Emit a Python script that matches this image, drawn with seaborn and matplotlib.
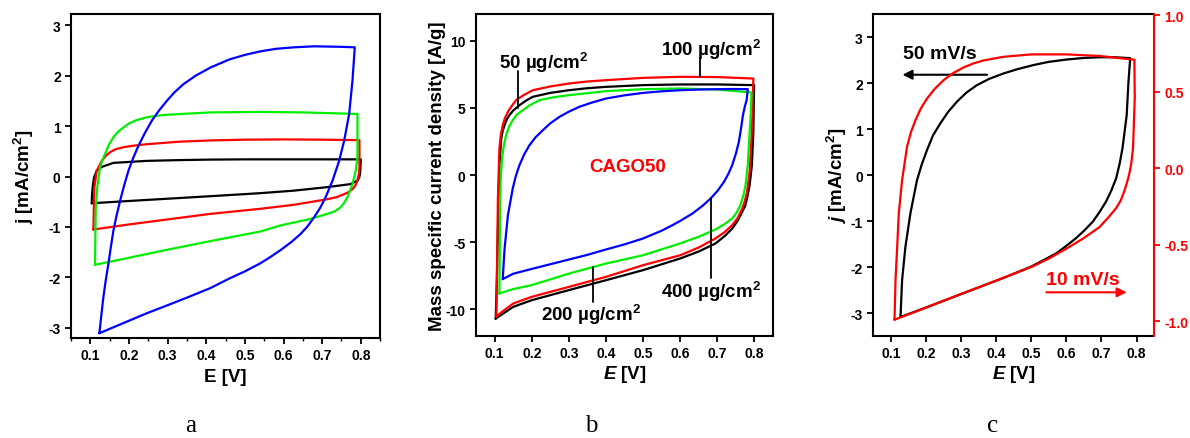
import matplotlib
matplotlib.use("Agg")
import matplotlib.pyplot as plt
import seaborn as sns
from matplotlib.ticker import MultipleLocator, FixedLocator

# ---------------- Panel a : j [mA/cm2] vs E [V] ----------------
a_black_E = [0.1035, 0.104, 0.106, 0.1095, 0.1165, 0.1295, 0.1597, 0.246, 0.33, 0.411, 0.5, 0.6, 0.7, 0.80,
             0.799, 0.798, 0.796, 0.7915, 0.774, 0.7135, 0.627, 0.540, 0.411, 0.3, 0.2, 0.1035]
a_black_j = [-0.53, -0.40, -0.21, -0.02, 0.115, 0.19, 0.27, 0.31, 0.325, 0.335, 0.34, 0.34, 0.34, 0.34,
             0.15, 0.05, -0.02, -0.08, -0.15, -0.21, -0.28, -0.33, -0.39, -0.44, -0.485, -0.53]

a_red_E = [0.1078, 0.1095, 0.1105, 0.1165, 0.1295, 0.14, 0.151, 0.165, 0.1856, 0.21, 0.246, 0.33, 0.411,
           0.5, 0.6, 0.7, 0.7966,
           0.7966, 0.795, 0.7915, 0.786, 0.7785, 0.768, 0.757, 0.737, 0.7135, 0.627, 0.540, 0.411,
           0.3, 0.2, 0.1078]
a_red_j = [-1.05, -0.45, -0.21, 0.115, 0.31, 0.41, 0.48, 0.54, 0.58, 0.61, 0.64, 0.69, 0.715,
           0.73, 0.735, 0.73, 0.72,
           0.18, 0.05, -0.08, -0.18, -0.25, -0.31, -0.35, -0.41, -0.45, -0.56, -0.64, -0.74,
           -0.85, -0.95, -1.05]

a_green_E = [0.112, 0.114, 0.118, 0.125, 0.131, 0.138, 0.148, 0.160, 0.172, 0.1856, 0.20, 0.220, 0.25,
             0.2895, 0.411, 0.54, 0.65, 0.7915,
             0.7915, 0.787, 0.7785, 0.7655, 0.757, 0.748, 0.733, 0.7135, 0.670, 0.592, 0.540, 0.411,
             0.3, 0.2, 0.112]
a_green_j = [-1.75, -0.61, -0.21, 0.18, 0.33, 0.445, 0.63, 0.78, 0.89, 0.97, 1.05, 1.12, 1.18,
             1.22, 1.27, 1.28, 1.27, 1.24,
             0.38, 0.115, -0.15, -0.41, -0.52, -0.61, -0.69, -0.74, -0.84, -0.97, -1.09, -1.28,
             -1.45, -1.61, -1.75]

a_blue_E = [0.1234, 0.128, 0.1337, 0.140, 0.1467, 0.153, 0.1597, 0.168, 0.177, 0.187, 0.1986, 0.211,
            0.2246, 0.241, 0.259, 0.278, 0.298, 0.318, 0.341, 0.373, 0.411, 0.46, 0.50, 0.54, 0.58,
            0.627, 0.679, 0.748, 0.7845,
            0.7785, 0.770, 0.757, 0.744, 0.727, 0.709, 0.695, 0.679, 0.662, 0.644, 0.62, 0.592,
            0.565, 0.540, 0.50, 0.46, 0.411, 0.35, 0.30, 0.246, 0.19, 0.1234]
a_blue_j = [-3.105, -2.78, -2.39, -2.05, -1.73, -1.40, -1.07, -0.77, -0.48, -0.19, 0.115, 0.37,
            0.61, 0.86, 1.105, 1.31, 1.50, 1.67, 1.83, 2.00, 2.16, 2.32, 2.41, 2.48, 2.53,
            2.56, 2.58, 2.57, 2.56,
            1.90, 1.24, 0.71, 0.31, -0.08, -0.41, -0.62, -0.81, -0.99, -1.14, -1.30, -1.46,
            -1.60, -1.72, -1.88, -2.02, -2.21, -2.40, -2.55, -2.71, -2.89, -3.105]

# ---------------- Panel b : mass specific current density [A/g] ----------------
b_black_E = [0.103, 0.106, 0.109, 0.113, 0.118, 0.122, 0.127, 0.133, 0.140, 0.15, 0.167, 0.185, 0.203,
             0.25, 0.3, 0.35, 0.4, 0.5, 0.6, 0.7, 0.799,
             0.797, 0.793, 0.787, 0.780, 0.775, 0.767, 0.755, 0.740, 0.72, 0.695, 0.65, 0.6, 0.5,
             0.4, 0.3, 0.2, 0.15, 0.103]
b_black_j = [-10.70, -8.0, -4.24, 0.73, 2.72, 3.3, 3.71, 4.15, 4.46, 4.8, 5.20, 5.55, 5.83,
             6.12, 6.32, 6.47, 6.57, 6.70, 6.75, 6.75, 6.70,
             3.2, 0.73, -0.76, -1.75, -2.3, -2.75, -3.4, -3.99, -4.55, -5.10, -5.7, -6.22, -7.09,
             -7.84, -8.58, -9.33, -9.83, -10.70]

b_red_E = [0.105, 0.107, 0.109, 0.113, 0.117, 0.122, 0.128, 0.136, 0.145, 0.158, 0.178, 0.203, 0.25,
           0.3, 0.35, 0.4, 0.5, 0.6, 0.7, 0.797,
           0.795, 0.792, 0.787, 0.780, 0.774, 0.767, 0.755, 0.740, 0.72, 0.695, 0.65, 0.6, 0.5,
           0.4, 0.3, 0.2, 0.15, 0.12, 0.105]
b_red_j = [-10.55, -6.0, -1.75, 1.98, 3.0, 3.71, 4.25, 4.71, 5.1, 5.58, 5.95, 6.32, 6.6,
           6.82, 6.97, 7.07, 7.24, 7.32, 7.30, 7.19,
           5.0, 2.72, 0.24, -1.25, -1.95, -2.50, -3.2, -3.74, -4.25, -4.73, -5.4, -5.98, -6.72,
           -7.59, -8.34, -9.08, -9.58, -10.2, -10.55]

b_green_E = [0.113, 0.115, 0.117, 0.120, 0.125, 0.131, 0.139, 0.149, 0.160, 0.176, 0.195, 0.221,
             0.26, 0.3, 0.35, 0.4, 0.5, 0.6, 0.7, 0.792,
             0.790, 0.787, 0.782, 0.776, 0.770, 0.762, 0.752, 0.740, 0.72, 0.695, 0.65, 0.6, 0.5,
             0.4, 0.3, 0.2, 0.15, 0.113]
b_green_j = [-8.83, -1.75, 0.0, 1.23, 2.2, 2.97, 3.6, 4.09, 4.5, 4.83, 5.2, 5.58,
             5.8, 5.95, 6.1, 6.25, 6.40, 6.45, 6.37, 6.15,
             4.5, 3.22, 0.73, -0.76, -1.55, -2.25, -2.8, -3.24, -3.65, -4.06, -4.6, -5.10, -5.98,
             -6.60, -7.35, -8.21, -8.50, -8.83]

b_blue_E = [0.122, 0.127, 0.136, 0.149, 0.157, 0.167, 0.18, 0.194, 0.21, 0.230, 0.25, 0.275, 0.30,
            0.328, 0.36, 0.4, 0.45, 0.5, 0.55, 0.6, 0.65, 0.7, 0.74, 0.782,
            0.779, 0.774, 0.769, 0.764, 0.758, 0.75, 0.740, 0.73, 0.718, 0.70, 0.682, 0.66, 0.633,
            0.6, 0.579, 0.55, 0.5, 0.45, 0.4, 0.35, 0.3, 0.25, 0.2, 0.15, 0.122]
b_blue_j = [-7.76, -5.48, -2.99, -1.0, -0.1, 0.73, 1.55, 2.22, 2.80, 3.34, 3.85, 4.34, 4.72,
            5.08, 5.38, 5.70, 5.94, 6.12, 6.24, 6.32, 6.37, 6.40, 6.41, 6.40,
            5.6, 5.1, 4.46, 3.5, 2.47, 1.6, 0.73, 0.1, -0.51, -1.2, -1.75, -2.3, -2.87,
            -3.42, -3.74, -4.15, -4.73, -5.17, -5.55, -5.95, -6.30, -6.65, -7.00, -7.36, -7.76]

# ---------------- Panel c : 50 mV/s (left axis) vs 10 mV/s (right axis) ----------------
c_black_E = [0.1274, 0.132, 0.1415, 0.1557, 0.1745, 0.188, 0.2028, 0.22, 0.2406, 0.263, 0.2877, 0.315,
             0.3444, 0.38, 0.420, 0.46, 0.506, 0.55, 0.6, 0.65, 0.694, 0.74, 0.782,
             0.777, 0.772, 0.760, 0.752, 0.742, 0.728, 0.713, 0.695, 0.676, 0.652, 0.628, 0.60,
             0.572, 0.535, 0.5, 0.42, 0.3, 0.2, 0.1274]
c_black_j = [-3.087, -2.28, -1.555, -0.83, -0.11, 0.23, 0.54, 0.86, 1.12, 1.37, 1.59, 1.79,
             1.95, 2.09, 2.205, 2.30, 2.39, 2.46, 2.51, 2.545, 2.56, 2.56, 2.54,
             2.02, 1.30, 0.58, 0.25, -0.07, -0.34, -0.58, -0.80, -1.01, -1.20, -1.37, -1.54,
             -1.70, -1.85, -1.99, -2.24, -2.59, -2.88, -3.087]

c_red_E = [0.1104, 0.1132, 0.118, 0.1226, 0.132, 0.146, 0.157, 0.1698, 0.185, 0.2028, 0.225, 0.250,
           0.277, 0.3066, 0.334, 0.3632, 0.420, 0.5, 0.6, 0.694, 0.794,
           0.795, 0.790, 0.785, 0.779, 0.772, 0.765, 0.755, 0.742, 0.72, 0.694, 0.647, 0.6, 0.55,
           0.5, 0.42, 0.3, 0.2, 0.1104]
c_red_j = [-0.989, -0.729, -0.511, -0.293, -0.076, 0.141, 0.235, 0.314, 0.39, 0.456, 0.52, 0.576,
           0.622, 0.659, 0.685, 0.705, 0.729, 0.745, 0.745, 0.735, 0.71,
           0.46, 0.13, 0.03, -0.04, -0.10, -0.15, -0.21, -0.26, -0.32, -0.385, -0.46, -0.525, -0.59,
           -0.645, -0.716, -0.821, -0.911, -0.989]

x_ticks = [0.1, 0.2, 0.3, 0.4, 0.5, 0.6, 0.7, 0.8]
a_yticks = [-3, -2, -1, 0, 1, 2, 3]
b_yticks = [-10, -5, 0, 5, 10]
c_yticks = [-3, -2, -1, 0, 1, 2, 3]
c_rticks = [-1.0, -0.5, 0.0, 0.5, 1.0]

RED = "#FF0000"
GREEN = "#00EE00"
BLUE = "#0000FF"
BLACK = "#000000"

sns.set_style("ticks")
plt.rcParams.update({
    "font.family": ["Liberation Sans", "DejaVu Sans"],
    "font.weight": "bold",
    "axes.labelweight": "bold",
    "text.color": "black",
    "axes.labelcolor": "black",
    "mathtext.fontset": "custom",
    "mathtext.rm": "Liberation Sans:bold",
    "mathtext.it": "Liberation Sans:italic:bold",
    "mathtext.bf": "Liberation Sans:bold",
    "axes.unicode_minus": False,
    "axes.linewidth": 1.5,
    "axes.edgecolor": "black",
    "xtick.direction": "out",
    "ytick.direction": "out",
    "xtick.major.size": 4,
    "ytick.major.size": 4,
    "xtick.minor.size": 2.5,
    "xtick.major.width": 1.3,
    "ytick.major.width": 1.3,
    "xtick.minor.width": 1.0,
    "xtick.labelsize": 10,
    "ytick.labelsize": 10,
    "axes.labelsize": 13.5,
    "xtick.color": "black",
    "ytick.color": "black",
})

fig = plt.figure(figsize=(11.9, 4.39), dpi=100)
axa = fig.add_axes([0.0597, 0.2278, 0.2597, 0.738])
axb = fig.add_axes([0.4000, 0.2323, 0.2496, 0.7335])
axc = fig.add_axes([0.7339, 0.2323, 0.2359, 0.7335])


def draw(ax, E, J, color):
    sns.lineplot(x=E, y=J, sort=False, estimator=None, color=color, lw=1.6, ax=ax)


for E, J, col in [(a_black_E, a_black_j, BLACK), (a_red_E, a_red_j, RED),
                  (a_green_E, a_green_j, GREEN), (a_blue_E, a_blue_j, BLUE)]:
    draw(axa, E, J, col)
for E, J, col in [(b_black_E, b_black_j, BLACK), (b_red_E, b_red_j, RED),
                  (b_green_E, b_green_j, GREEN), (b_blue_E, b_blue_j, BLUE)]:
    draw(axb, E, J, col)
draw(axc, c_black_E, c_black_j, BLACK)
axr = axc.twinx()
draw(axr, c_red_E, c_red_j, RED)

for ax in (axa, axb, axc):
    ax.set_xlim(0.05, 0.85)
    ax.xaxis.set_major_locator(FixedLocator(x_ticks))
    ax.set_xticklabels([f"{t:.1f}" for t in x_ticks])
    ax.tick_params(top=False, right=False)
    for s in ax.spines.values():
        s.set_linewidth(1.5)
        s.set_visible(True)

axa.set_ylim(-3.2, 3.22)
axa.set_yticks(a_yticks)
axa.set_yticklabels([str(t) for t in a_yticks])
axa.xaxis.set_minor_locator(MultipleLocator(0.05))
axa.set_xlabel("E [V]", labelpad=4)
axa.set_ylabel("j [mA/cm$^2$]", labelpad=9)

axb.set_ylim(-12, 12)
axb.set_yticks(b_yticks)
axb.set_yticklabels([str(t) for t in b_yticks])
axb.set_xlabel("$E$ [V]", labelpad=2)
axb.set_ylabel("Mass specific current density [A/g]", labelpad=0)

axc.set_ylim(-3.5, 3.5)
axc.set_yticks(c_yticks)
axc.set_yticklabels([str(t) for t in c_yticks])
axc.set_xlabel("$E$ [V]", labelpad=2)
axc.set_ylabel("$j$ [mA/cm$^2$]", labelpad=1)
axc.spines["right"].set_visible(False)

axr.set_ylim(-1.096, 1.009)
axr.set_yticks(c_rticks)
axr.set_yticklabels([f"{t:.1f}" for t in c_rticks])
axr.tick_params(axis="y", colors=RED, right=True, left=False, labelright=True, labelleft=False)
for name, s in axr.spines.items():
    s.set_visible(name == "right")
axr.spines["right"].set_color(RED)
axr.spines["right"].set_linewidth(1.5)
axr.set_ylabel("")

# annotations panel b
fs_ann = 13.5
axb.plot([0.164, 0.164], [7.74, 4.96], color="black", lw=1.3)
axb.text(0.233, 7.94, "50 µg/cm$^2$", ha="center", va="baseline", fontsize=fs_ann)
axb.plot([0.653, 0.653], [8.73, 7.32], color="black", lw=1.3)
axb.text(0.683, 8.98, "100 µg/cm$^2$", ha="center", va="baseline", fontsize=fs_ann)
axb.plot([0.366, 0.366], [-6.84, -9.45], color="black", lw=1.3)
axb.text(0.36, -10.82, "200 µg/cm$^2$", ha="center", va="baseline", fontsize=fs_ann)
axb.plot([0.682, 0.682], [-1.75, -7.71], color="black", lw=1.3)
axb.text(0.683, -9.08, "400 µg/cm$^2$", ha="center", va="baseline", fontsize=fs_ann)
axb.text(0.458, 0.61, "CAGO50", ha="center", va="center", fontsize=13.5, color=RED)

# annotations panel c
axc.text(0.239, 2.54, "50 mV/s", ha="center", va="baseline", fontsize=14, color="black")
axc.annotate("", xy=(0.133, 2.18), xytext=(0.374, 2.18),
             arrowprops=dict(arrowstyle="-|>", color="black", lw=1.5, mutation_scale=14,
                             shrinkA=0, shrinkB=0))
axc.text(0.647, -2.37, "10 mV/s", ha="center", va="baseline", fontsize=14, color=RED)
axc.annotate("", xy=(0.772, -2.55), xytext=(0.543, -2.55),
             arrowprops=dict(arrowstyle="-|>", color=RED, lw=1.5, mutation_scale=14,
                             shrinkA=0, shrinkB=0))

for lab, xc in [("a", 0.1602), ("b", 0.4972), ("c", 0.8342)]:
    fig.text(xc, 0.016, lab, ha="center", va="baseline", fontsize=18,
             family="Liberation Serif", weight="normal", color="black")

fig.savefig("out.png", dpi=100)
